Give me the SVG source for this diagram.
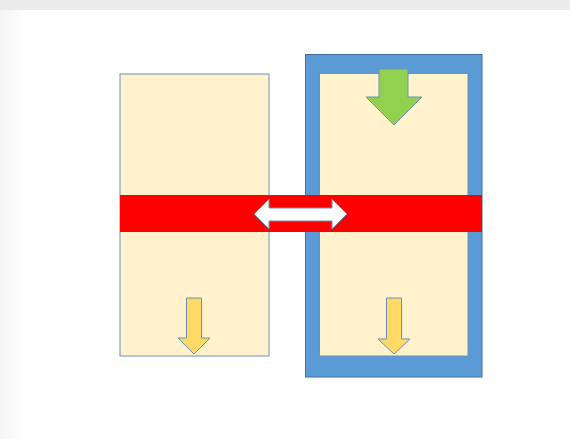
<svg xmlns="http://www.w3.org/2000/svg" width="570" height="439" viewBox="0 0 570 439">
  <defs>
    <style>
      .cream { fill: #FFF2CC; stroke: #6F8FB8; stroke-width: 1; }
      .blue { fill: #5B9BD5; stroke: #41719C; stroke-width: 1; }
      .arrow { stroke: #6F8FB8; stroke-width: 1; stroke-linejoin: miter; }
    </style>
    <linearGradient id="leftShade" x1="0" y1="0" x2="1" y2="0">
      <stop offset="0" stop-color="#f6f6f6"/>
      <stop offset="1" stop-color="#fbfbfb"/>
    </linearGradient>
  </defs>
  <rect x="0" y="0" width="570" height="439" fill="#ffffff"/>
  <rect x="0" y="0" width="20" height="439" fill="url(#leftShade)"/>
  <rect x="0" y="0" width="570" height="10" fill="#ececec"/>

  <g id="left-column">
    <rect class="cream" x="120" y="74" width="149" height="282"/>
  </g>

  <g id="right-column">
    <rect class="blue" x="305.5" y="54.5" width="176.5" height="322.5"/>
    <rect class="cream" x="319.5" y="73.5" width="148.5" height="282.5"/>
  </g>

  <g id="red-band">
    <rect x="120" y="195" width="362" height="37" fill="#FF0000"/>
  </g>

  <g id="connectors">
    <path id="double-arrow" class="arrow" fill="#FFFFFF"
      d="M254,214 L269,199 L269,208 L332,208 L332,199 L347,214 L332,229 L332,221 L269,221 L269,229 Z"/>
    <path id="green-arrow" class="arrow" fill="#92D050"
      d="M379,69 L408,69 L408,97 L422,97 L394,125 L366,97 L379,97 Z"/>
    <path id="yellow-arrow-left" class="arrow" fill="#FFD966"
      d="M186.5,298 L201.5,298 L201.5,338 L210,338 L194,354 L178,338 L186.5,338 Z"/>
    <path id="yellow-arrow-right" class="arrow" fill="#FFD966"
      d="M386.5,298 L401.5,298 L401.5,339 L410,339 L394,354 L378,339 L386.5,339 Z"/>
  </g>
</svg>
